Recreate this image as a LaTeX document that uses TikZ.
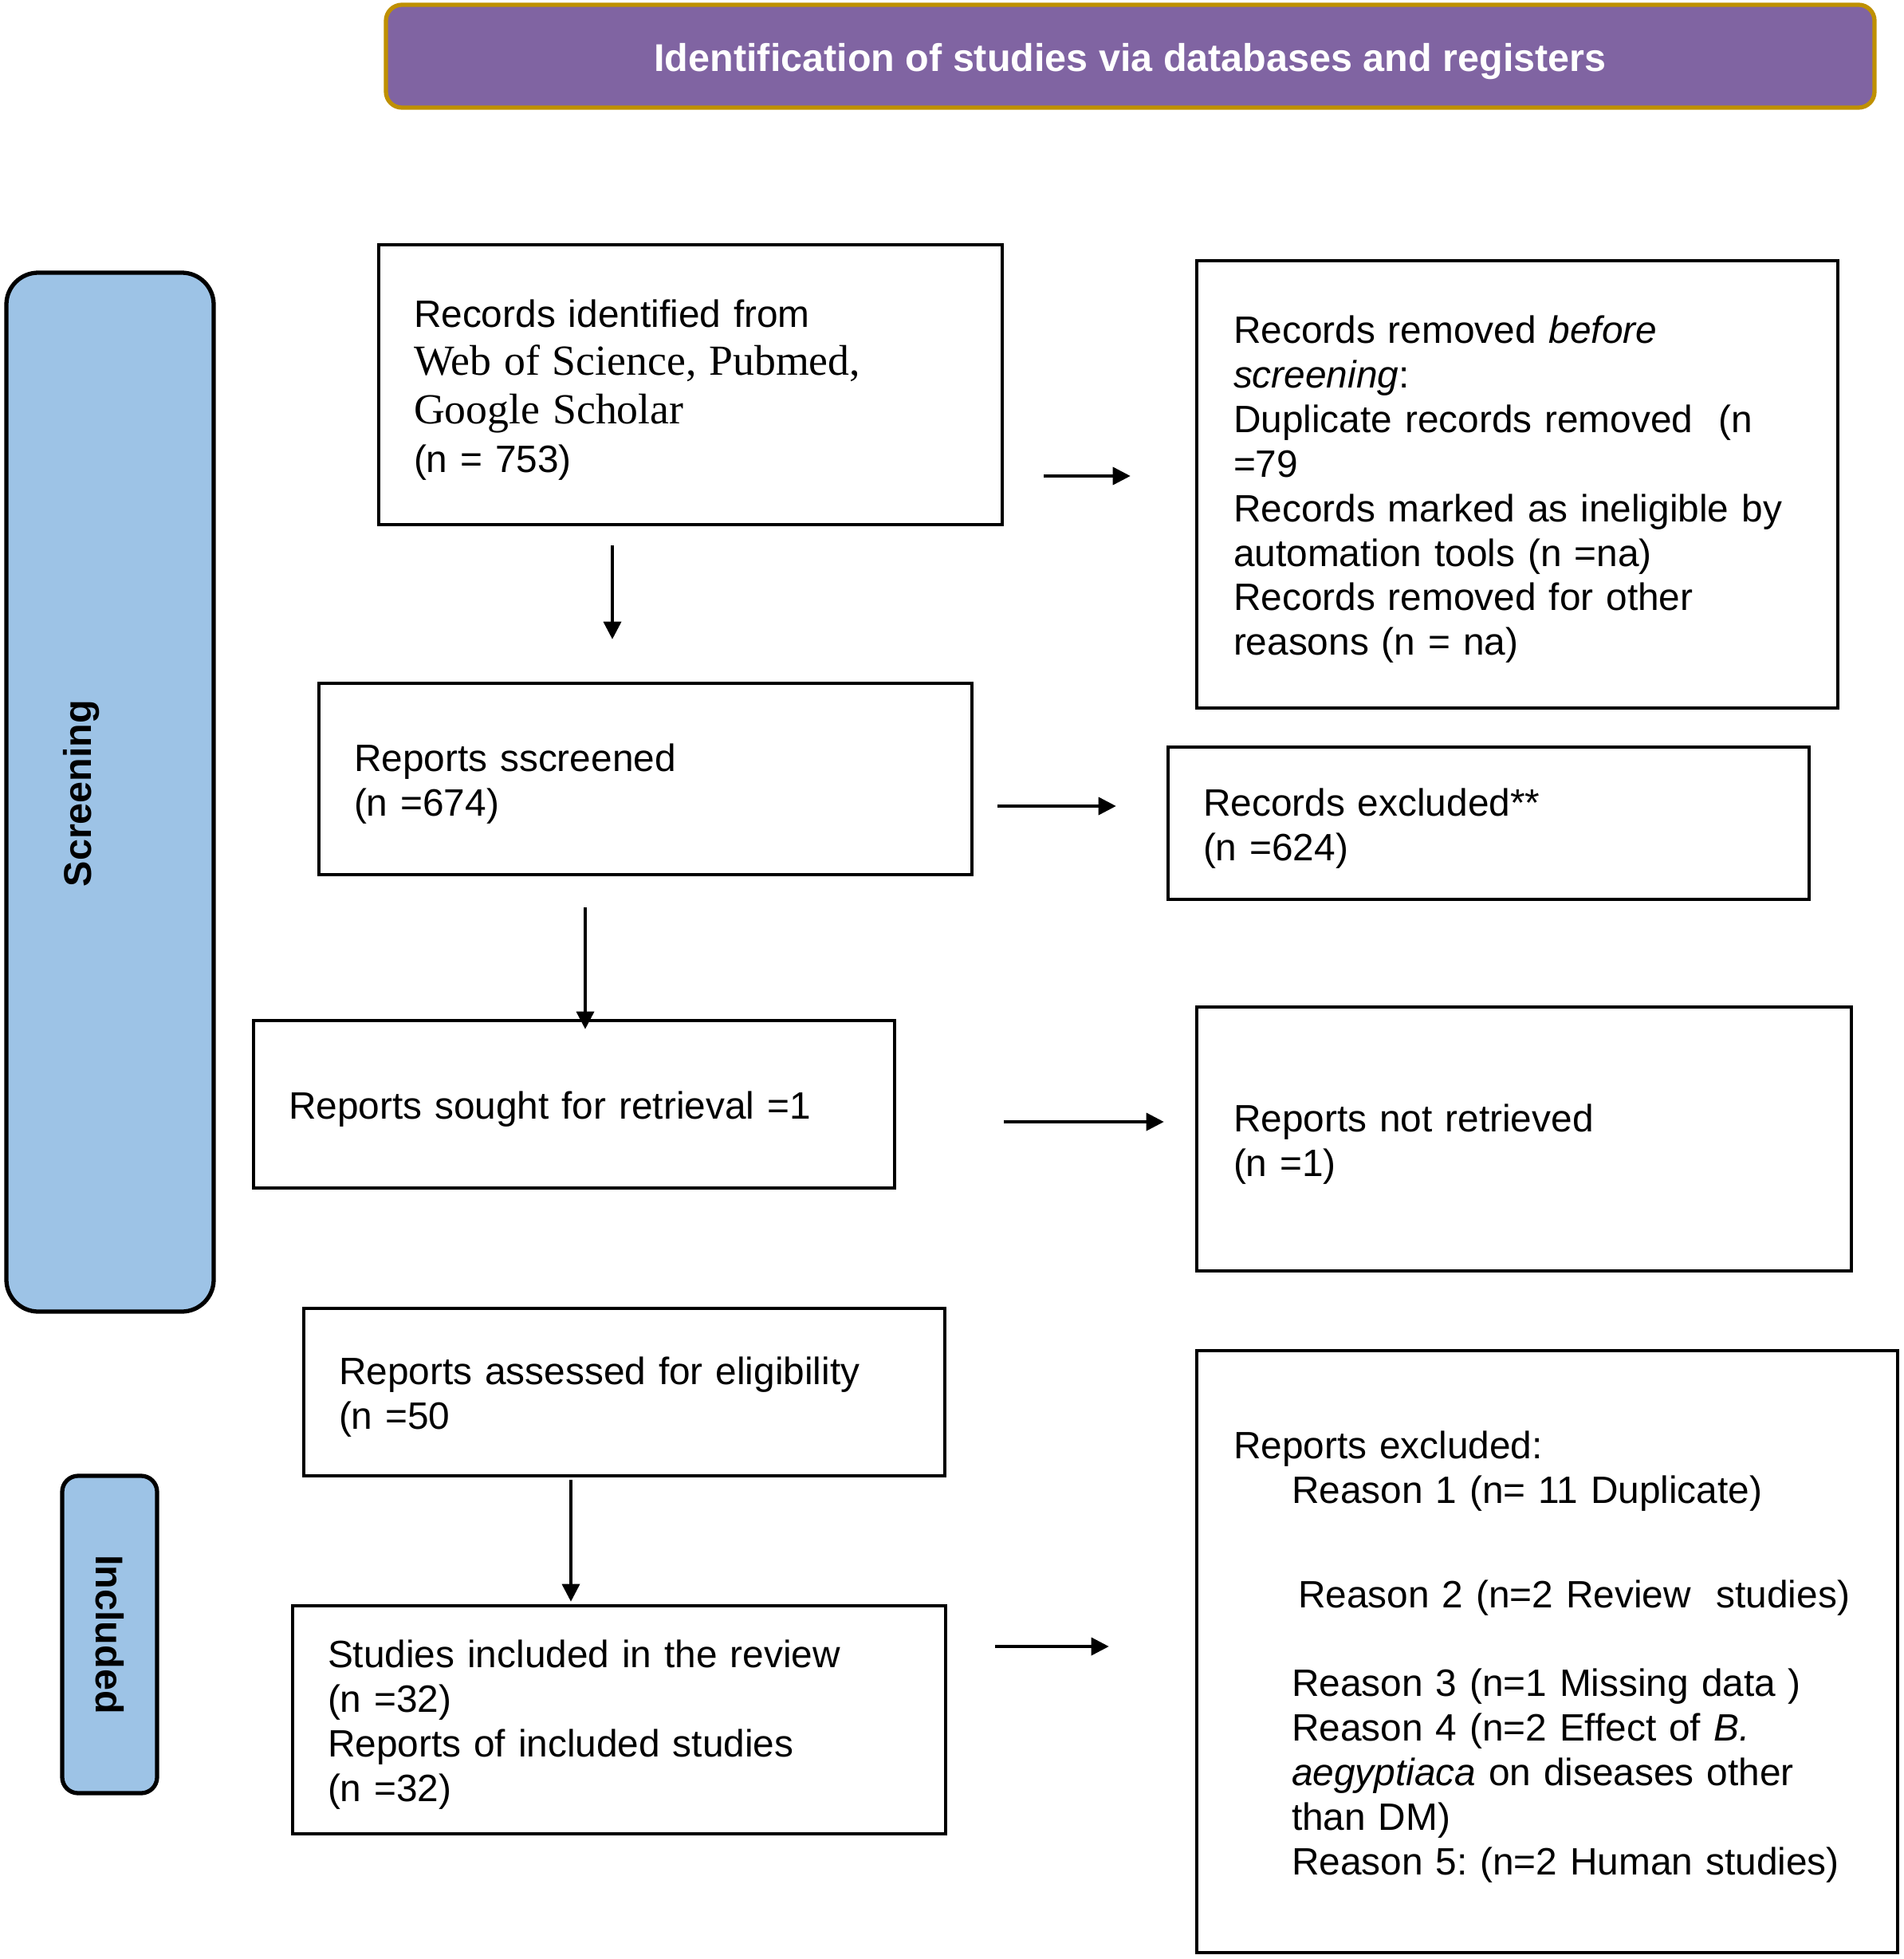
\documentclass[tikz,border=0pt]{standalone}
\usepackage{fontspec}
\setmainfont{Liberation Sans}
\newfontfamily\timesfont{Liberation Serif}
\usetikzlibrary{positioning, arrows.meta}
\definecolor{titlepurple}{HTML}{8064A2}
\definecolor{titlegold}{HTML}{BF9000}
\definecolor{phaseblue}{HTML}{9DC3E6}
\newcommand{\txt}{\fontsize{13.6}{15.9}\selectfont\frenchspacing}
\newcommand{\hdr}{\fontsize{13.8}{15.9}\selectfont\bfseries}
\newcommand{\ind}{\hspace*{0.73cm}}
\tikzset{
  box/.style={draw, line width=1.3pt, inner xsep=0.44cm, inner ysep=0pt, align=left, font=\txt,
    execute at begin node=\rule{0pt}{13.5pt}},
  phase/.style={draw, line width=1.5pt, fill=phaseblue},
  arr/.style={-{Triangle[length=2.2mm,width=2.2mm]}, line width=1pt},
}
\begin{document}
\begin{tikzpicture}
\useasboundingbox (0,0) rectangle (23.88,-24.57);
% header and phase bars
\node[draw=titlegold, line width=1.5pt, fill=titlepurple, rounded corners=0.2cm, minimum width=18.67cm, minimum height=1.29cm, text=white, font=\hdr] at (14.175,-0.705) (title) {\rule{0pt}{13.5pt}Identification of studies via databases and registers};
\node[phase, rounded corners=0.4cm, minimum width=2.6cm, minimum height=13.03cm] at (1.38,-9.935) (screen) {};
\node[rotate=90, font=\hdr] at (1.02,-9.95) (screenlbl) {Screening};
\node[phase, rounded corners=0.2cm, minimum width=1.19cm, minimum height=3.98cm] at (1.375,-20.5) (incl) {};
\node[rotate=-90, font=\hdr] at (1.38,-20.5) (incllbl) {Included};
% left column
\node[box, font=\fontsize{13.6}{17.3}\selectfont, text width=6.94cm, minimum height=3.51cm] at (8.66,-4.825) (ident) {Records identified from\\
{\timesfont\fontsize{15.3}{17.3}\selectfont Web of Science, Pubmed,}\\
{\timesfont\fontsize{15.3}{17.3}\selectfont Google Scholar}\\
(n = 753)};
\node[box, text width=7.31cm, minimum height=2.4cm] at (8.095,-9.77) (screened) {Reports sscreened\\(n =674)};
\node[box, text width=7.16cm, minimum height=2.1cm] at (7.2,-13.85) (sought) {Reports sought for retrieval =1};
\node[box, text width=7.16cm, minimum height=2.1cm] at (7.83,-17.46) (assessed) {Reports assessed for eligibility\\(n =50};
\node[box, text width=7.31cm, minimum height=2.86cm] at (7.765,-21.57) (inclstud) {Studies included in the review\\(n =32)\\Reports of included studies\\(n =32)};
% right column
\node[box, inner xsep=0.46cm, text width=7.12cm, minimum height=5.61cm] at (19.03,-6.075) (removed) {Records removed \textit{before}\\
\textit{screening}:\\
Duplicate records removed\ \ (n\\
=79\\
Records marked as ineligible by\\
automation tools (n =na)\\
Records removed for other\\
reasons (n = na)};
\node[box, text width=7.16cm, minimum height=1.91cm] at (18.67,-10.325) (excluded) {Records excluded**\\(n =624)};
\node[box, inner xsep=0.46cm, text width=7.29cm, minimum height=3.31cm] at (19.115,-14.285) (notretr) {Reports not retrieved\\(n =1)};
\node[box, inner xsep=0.46cm, text width=7.87cm, minimum height=7.55cm] at (19.405,-20.715) (rexcl) {Reports excluded:\\
\ind Reason 1 (n= 11 Duplicate)\\[21.6pt]
\hspace*{0.81cm}Reason 2 (n=2 Review\ \ studies)\\[15.7pt]
\ind Reason 3 (n=1 Missing data )\\
\ind Reason 4 (n=2 Effect of \textit{B.}\\
\ind \textit{aegyptiaca} on diseases other\\
\ind than DM)\\
\ind Reason 5: (n=2 Human studies)};
% arrows
\draw[arr, shorten <=5mm, shorten >=8.1mm] (ident.east |- 0,-5.97) -- (removed.west |- 0,-5.97);
\draw[arr, shorten <=2.4mm, shorten >=5.3mm] (7.68,0 |- ident.south) -- (7.68,0 |- screened.north);
\draw[arr, shorten <=3mm, shorten >=6.3mm] (screened.east |- 0,-10.11) -- (excluded.west |- 0,-10.11);
\draw[arr, shorten <=3.9mm, shorten >=-1.3mm] (7.34,0 |- screened.south) -- (7.34,0 |- sought.north);
\draw[arr, shorten <=13.5mm, shorten >=3.9mm] (sought.east |- 0,-14.07) -- (notretr.west |- 0,-14.07);
\draw[arr, shorten <=0.3mm, shorten >=0.3mm] (7.16,0 |- assessed.south) -- (7.16,0 |- inclstud.north);
\draw[arr, shorten <=6mm, shorten >=10.8mm] (inclstud.east |- 0,-20.65) -- (rexcl.west |- 0,-20.65);
\end{tikzpicture}
\end{document}
